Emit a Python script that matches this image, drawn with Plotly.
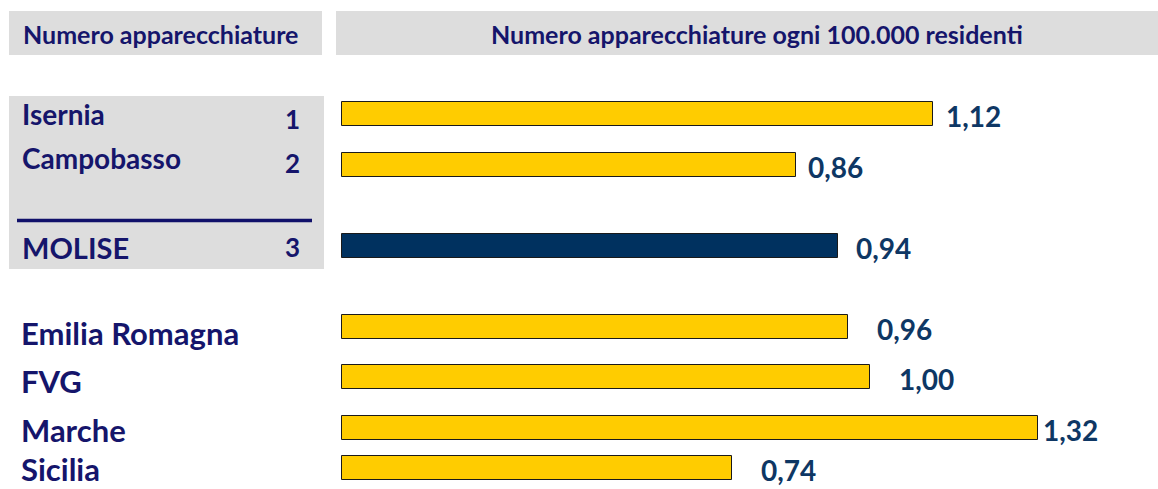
import plotly.graph_objects as go

# ---- data ----
provinces = ["Isernia", "Campobasso"]
province_counts = [1, 2]
province_rates = [1.12, 0.86]

region_name = "MOLISE"
region_count = 3
region_rate = 0.94

compare_regions = ["Emilia Romagna", "FVG", "Marche", "Sicilia"]
compare_rates = [0.96, 1.00, 1.32, 0.74]

header_left = "Numero apparecchiature"
header_right = "Numero apparecchiature ogni 100.000 residenti"

# ---- layout constants (pixel rows) ----
W, H = 1158, 489
prov_bar_y = [114, 165]
molise_bar_y = 246
comp_bar_y = [327, 377, 427.5, 468]
prov_label_y = [114, 158]
molise_label_y = 247
comp_label_y = [333, 381, 430, 469]
value_label_shift = [11, 10, 16, 27, 27, 3, 27]
BAR_H = 24
X0_PX = 342
PX_PER_UNIT = 527.5

YELLOW = "#FFCC00"
NAVY_BAR = "#00315F"
LABEL_COL = "#15156B"
VALUE_COL = "#0E3764"
GRAY = "#DDDDDD"
FONT = "Lato"

def px(x):
    return x / W

def py(y):
    return 1 - y / H

fig = go.Figure()

all_y = prov_bar_y + [molise_bar_y] + comp_bar_y
all_v = province_rates + [region_rate] + compare_rates
colors = [YELLOW] * len(province_rates) + [NAVY_BAR] + [YELLOW] * len(compare_rates)

fig.add_trace(go.Bar(
    orientation="h",
    x=all_v,
    y=all_y,
    width=BAR_H,
    marker=dict(color=colors, line=dict(color="#1a1a1a", width=1)),
    hoverinfo="skip",
    showlegend=False,
))

shapes = [
    dict(type="rect", xref="paper", yref="paper", x0=px(9), x1=px(322), y0=py(55), y1=py(11),
         fillcolor=GRAY, line=dict(width=0), layer="below"),
    dict(type="rect", xref="paper", yref="paper", x0=px(336), x1=px(1158), y0=py(55), y1=py(11),
         fillcolor=GRAY, line=dict(width=0), layer="below"),
    dict(type="rect", xref="paper", yref="paper", x0=px(9), x1=px(324), y0=py(269), y1=py(96),
         fillcolor=GRAY, line=dict(width=0), layer="below"),
    dict(type="line", xref="paper", yref="paper", x0=px(17), x1=px(312), y0=py(220.5), y1=py(220.5),
         line=dict(color="#10106A", width=3.5)),
]

ann = []
ann.append(dict(text=f"<b>{header_left}</b>", xref="paper", yref="paper", x=px(160), y=py(34),
                xanchor="center", yanchor="middle", showarrow=False,
                font=dict(family=FONT, size=25, color=LABEL_COL)))
ann.append(dict(text=f"<b>{header_right}</b>", xref="paper", yref="paper", x=px(757), y=py(34),
                xanchor="center", yanchor="middle", showarrow=False,
                font=dict(family=FONT, size=25, color=LABEL_COL)))

for name, cnt, yy in zip(provinces, province_counts, prov_label_y):
    ann.append(dict(text=f"<b>{name}</b>", xref="paper", yref="y", x=px(20), y=yy,
                    xanchor="left", yanchor="middle", showarrow=False,
                    font=dict(family=FONT, size=28, color=LABEL_COL)))
    ann.append(dict(text=f"<b>{cnt}</b>", xref="paper", yref="y", x=px(302), y=yy + 5,
                    xanchor="right", yanchor="middle", showarrow=False,
                    font=dict(family=FONT, size=26, color=LABEL_COL)))

ann.append(dict(text=f"<b>{region_name}</b>", xref="paper", yref="y", x=px(20), y=molise_label_y,
                xanchor="left", yanchor="middle", showarrow=False,
                font=dict(family=FONT, size=29, color=LABEL_COL)))
ann.append(dict(text=f"<b>{region_count}</b>", xref="paper", yref="y", x=px(302), y=molise_label_y,
                xanchor="right", yanchor="middle", showarrow=False,
                font=dict(family=FONT, size=26, color=LABEL_COL)))

for name, yy in zip(compare_regions, comp_label_y):
    ann.append(dict(text=f"<b>{name}</b>", xref="paper", yref="y", x=px(20), y=yy,
                    xanchor="left", yanchor="middle", showarrow=False, borderpad=0,
                    font=dict(family=FONT, size=31, color=LABEL_COL)))

for v, yy, sh in zip(all_v, all_y, value_label_shift):
    ann.append(dict(text="<b>" + f"{v:.2f}".replace(".", ",") + "</b>", xref="x", yref="y",
                    x=v, y=yy + 2, xanchor="left", yanchor="middle", xshift=sh,
                    showarrow=False, font=dict(family=FONT, size=28, color=VALUE_COL)))

fig.update_layout(
    width=W, height=H,
    margin=dict(l=0, r=0, t=0, b=0),
    paper_bgcolor="white", plot_bgcolor="white",
    xaxis=dict(range=[-X0_PX / PX_PER_UNIT, (W - X0_PX) / PX_PER_UNIT], visible=False, fixedrange=True),
    yaxis=dict(range=[H, 0], visible=False, fixedrange=True),
    shapes=shapes,
    annotations=ann,
    bargap=0,
)

fig.write_html("out.html", config={"displayModeBar": False},
               post_script="document.body.style.margin='0';document.body.style.overflow='hidden';")
